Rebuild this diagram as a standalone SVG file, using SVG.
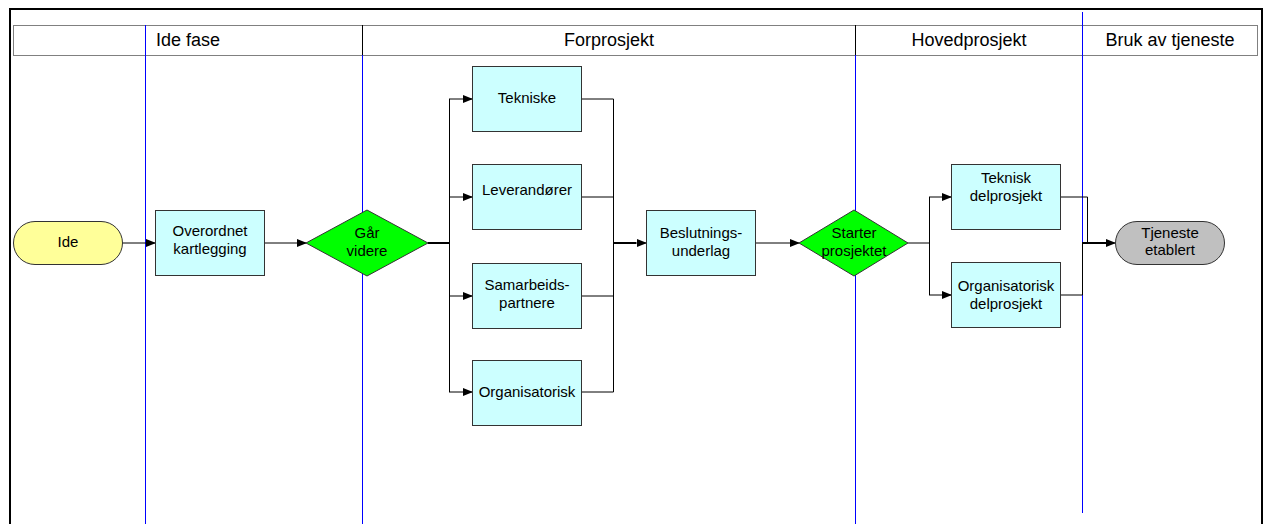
<svg xmlns="http://www.w3.org/2000/svg" width="1266" height="524" viewBox="0 0 1266 524">
<defs>
<marker id="arr" markerWidth="10" markerHeight="8" refX="9" refY="4" orient="auto" markerUnits="userSpaceOnUse">
<path d="M0,0 L10,4 L0,8 Z" fill="#000"/>
</marker>
<style>
.hdr{font-family:"Liberation Sans",Arial,sans-serif;font-size:18px;fill:#000;text-anchor:middle}
.t{font-family:"Liberation Sans",Arial,sans-serif;font-size:15px;fill:#000;text-anchor:middle}
.box{fill:#ccffff;stroke:#333;stroke-width:1}
.dia{fill:#00ff00;stroke:#333;stroke-width:1}
.c{fill:none;stroke:#000;stroke-width:1}
.ca{fill:none;stroke:#000;stroke-width:1;marker-end:url(#arr)}
</style>
</defs>
<rect width="1266" height="524" fill="#fff"/>
<g id="frame">
<path d="M10,524 V9 H1262 V524" fill="none" stroke="#000" stroke-width="2"/>
<rect x="13.5" y="25.5" width="1244" height="30" fill="none" stroke="#000" stroke-width="1" stroke-dasharray="1,1"/>
<line x1="362.5" y1="25" x2="362.5" y2="55" stroke="#000"/>
<line x1="855.5" y1="25" x2="855.5" y2="55" stroke="#000"/>
</g>
<g id="lanes" stroke="#0000ff" stroke-width="1">
<line x1="145.5" y1="25" x2="145.5" y2="524"/>
<line x1="362.5" y1="55" x2="362.5" y2="524"/>
<line x1="855.5" y1="55" x2="855.5" y2="524"/>
<line x1="1082.5" y1="12" x2="1082.5" y2="513"/>
</g>
<g id="headers">
<text class="hdr" x="188" y="46">Ide fase</text>
<text class="hdr" x="609" y="46">Forprosjekt</text>
<text class="hdr" x="969" y="46">Hovedprosjekt</text>
<text class="hdr" x="1170" y="46">Bruk av tjeneste</text>
</g>
<g id="connectors">
<line class="ca" x1="122" y1="243" x2="155" y2="243"/>
<line class="ca" x1="264" y1="243" x2="306" y2="243"/>
<line x1="428" y1="243" x2="449" y2="243" stroke="#000" stroke-width="2"/>
<line class="c" x1="449.5" y1="99" x2="449.5" y2="392"/>
<line class="ca" x1="449" y1="99" x2="472" y2="99"/>
<line class="ca" x1="449" y1="197" x2="472" y2="197"/>
<line class="ca" x1="449" y1="296" x2="472" y2="296"/>
<line class="ca" x1="449" y1="392" x2="472" y2="392"/>
<path class="c" d="M581,99 H613.5 V392 H581"/>
<line class="c" x1="581" y1="197" x2="613" y2="197"/>
<line class="c" x1="581" y1="296" x2="613" y2="296"/>
<line x1="613" y1="243" x2="636" y2="243" stroke="#000" stroke-width="2"/>
<line class="ca" x1="630" y1="243" x2="646" y2="243"/>
<line class="ca" x1="755" y1="243" x2="799" y2="243"/>
<line class="c" x1="908" y1="243" x2="929" y2="243"/>
<line class="c" x1="929.5" y1="197" x2="929.5" y2="295"/>
<line class="ca" x1="929" y1="197" x2="951" y2="197"/>
<line class="ca" x1="929" y1="295" x2="951" y2="295"/>
<path class="c" d="M1060,197 H1087.5 V243"/>
<path class="c" d="M1060,295 H1082.5 V243"/>
<line x1="1082" y1="243" x2="1106" y2="243" stroke="#000" stroke-width="2"/>
<line class="ca" x1="1100" y1="243" x2="1115" y2="243"/>
</g>
<g id="n-ide">
<rect x="13.5" y="221.5" width="109" height="43" rx="21.5" fill="#ffff99" stroke="#333"/>
<text class="t" x="68" y="247">Ide</text>
</g>
<g id="n-overordnet">
<rect class="box" x="155.5" y="210.5" width="109" height="65"/>
<text class="t" x="210" y="236">Overordnet</text>
<text class="t" x="210" y="254">kartlegging</text>
</g>
<g id="n-gaar">
<polygon class="dia" points="306,243 367,210 428,243 367,276"/>
<text class="t" x="367" y="238">Går</text>
<text class="t" x="367" y="256">videre</text>
</g>
<g id="n-tekniske">
<rect class="box" x="472.5" y="66.5" width="109" height="65"/>
<text class="t" x="527" y="103">Tekniske</text>
</g>
<g id="n-leverandorer">
<rect class="box" x="472.5" y="164.5" width="109" height="65"/>
<text class="t" x="527" y="195">Leverandører</text>
</g>
<g id="n-samarbeid">
<rect class="box" x="472.5" y="263.5" width="109" height="65"/>
<text class="t" x="527" y="290">Samarbeids-</text>
<text class="t" x="527" y="308">partnere</text>
</g>
<g id="n-organisatorisk">
<rect class="box" x="472.5" y="360.5" width="109" height="65"/>
<text class="t" x="527" y="397">Organisatorisk</text>
</g>
<g id="n-beslutning">
<rect class="box" x="646.5" y="210.5" width="109" height="65"/>
<text class="t" x="701" y="238">Beslutnings-</text>
<text class="t" x="701" y="256">underlag</text>
</g>
<g id="n-starter">
<polygon class="dia" points="799,243 854,210 908,243 854,276"/>
<text class="t" x="854" y="238">Starter</text>
<text class="t" x="854" y="256">prosjektet</text>
</g>
<g id="n-teknisk-del">
<rect class="box" x="951.5" y="164.5" width="109" height="65"/>
<text class="t" x="1006" y="183">Teknisk</text>
<text class="t" x="1006" y="201">delprosjekt</text>
</g>
<g id="n-org-del">
<rect class="box" x="951.5" y="262.5" width="109" height="65"/>
<text class="t" x="1006" y="291">Organisatorisk</text>
<text class="t" x="1006" y="309">delprosjekt</text>
</g>
<g id="n-tjeneste">
<rect x="1115.5" y="221.5" width="109" height="43" rx="21.5" fill="#c0c0c0" stroke="#333"/>
<text class="t" x="1170" y="238">Tjeneste</text>
<text class="t" x="1170" y="255">etablert</text>
</g>
</svg>
